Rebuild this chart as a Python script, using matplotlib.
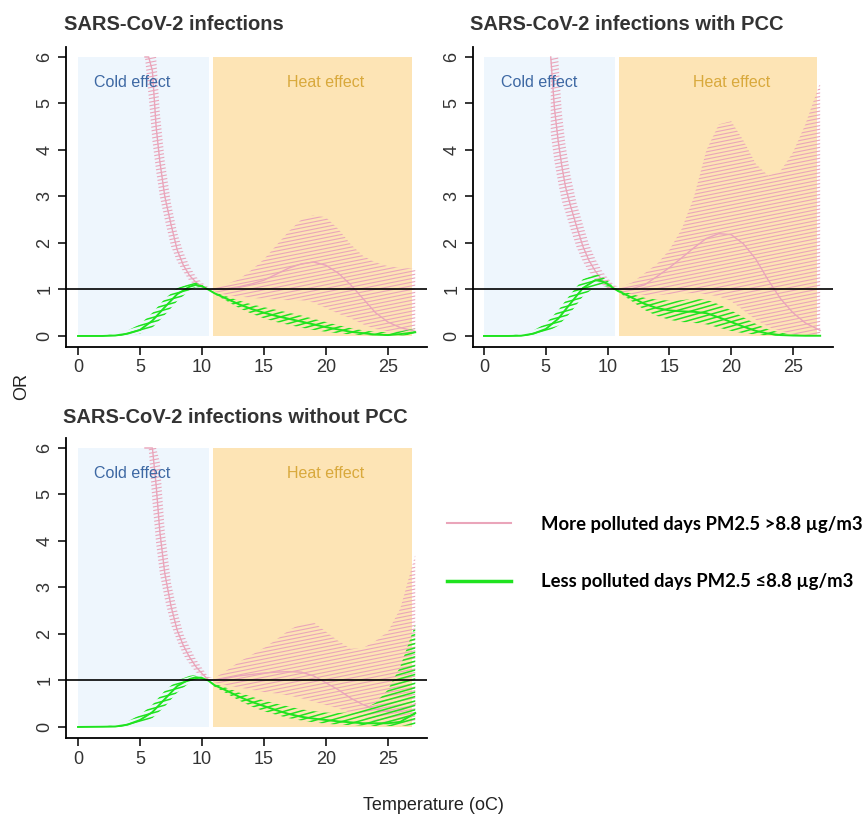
import numpy as np
import matplotlib
matplotlib.use("Agg")
import matplotlib.pyplot as plt
from matplotlib.patches import Polygon, Rectangle
from matplotlib.collections import LineCollection
from matplotlib.lines import Line2D

plt.rcParams["font.family"] = ["Liberation Sans", "DejaVu Sans"]

# temperature grids (oC)
PINK_T = [5.4, 5.7, 6.0, 6.3, 6.6, 7.0, 7.5, 8.0, 8.5, 9.0, 9.5, 10.0, 10.5,
          11, 12, 13, 14, 15, 16, 17, 18, 19, 20, 21, 22, 23, 24, 25, 26, 27.2]
GREEN_T = [0, 2, 3, 4, 5, 6, 7, 8, 9, 9.5, 10, 10.5,
           11, 12, 13, 14, 15, 16, 17, 18, 19, 20, 21, 22, 23, 24, 25, 26, 27.2]

# panel 1: SARS-CoV-2 infections
P1_PINK_EST = [9.0, 7.0, 5.7, 4.5, 3.75, 3.0, 2.4, 1.85, 1.52, 1.3, 1.16, 1.06, 1.0,
               1.0, 1.02, 1.06, 1.12, 1.2, 1.33, 1.46, 1.55, 1.59, 1.52, 1.35, 1.1, 0.8, 0.5, 0.3, 0.18, 0.1]
P1_PINK_LO = [6.6, 5.15, 4.2, 3.55, 3.0, 2.5, 1.93, 1.6, 1.38, 1.18, 1.1, 1.03, 1.0,
              0.95, 0.88, 0.85, 0.82, 0.8, 0.78, 0.77, 0.77, 0.72, 0.6, 0.48, 0.38, 0.25, 0.15, 0.1, 0.07, 0.05]
P1_PINK_HI = [9.5, 9.5, 7.5, 6.2, 4.8, 3.75, 2.85, 2.22, 1.8, 1.5, 1.28, 1.15, 1.05,
              1.05, 1.12, 1.22, 1.42, 1.65, 1.95, 2.25, 2.5, 2.6, 2.55, 2.3, 1.97, 1.72, 1.58, 1.5, 1.46, 1.45]
P1_GREEN_EST = [0, 0.0, 0.01, 0.05, 0.13, 0.33, 0.62, 0.9, 1.06, 1.1, 1.07, 1.0,
                0.92, 0.8, 0.68, 0.58, 0.5, 0.43, 0.37, 0.31, 0.25, 0.19, 0.14, 0.09, 0.06, 0.03, 0.02, 0.04, 0.08]
P1_GREEN_LO = [0, 0, 0, 0.01, 0.05, 0.18, 0.45, 0.75, 0.98, 1.05, 1.04, 1.0,
               0.9, 0.75, 0.6, 0.48, 0.38, 0.3, 0.24, 0.18, 0.13, 0.09, 0.06, 0.03, 0.02, 0.01, 0.005, 0.01, 0.02]
P1_GREEN_HI = [0, 0.01, 0.04, 0.12, 0.25, 0.5, 0.8, 1.03, 1.13, 1.15, 1.1, 1.0,
               0.94, 0.85, 0.76, 0.68, 0.62, 0.56, 0.5, 0.44, 0.37, 0.3, 0.23, 0.17, 0.12, 0.09, 0.08, 0.1, 0.16]

# panel 2: SARS-CoV-2 infections with PCC
P2_PINK_EST = [6.8, 4.9, 4.2, 3.65, 3.2, 2.8, 2.35, 1.93, 1.62, 1.4, 1.22, 1.1, 1.01,
               1.0, 1.02, 1.1, 1.28, 1.47, 1.68, 1.9, 2.1, 2.2, 2.18, 1.98, 1.65, 1.2, 0.8, 0.5, 0.28, 0.12]
P2_PINK_LO = [4.35, 3.75, 3.3, 2.9, 2.65, 2.3, 1.9, 1.6, 1.38, 1.21, 1.11, 1.03, 1.0,
              0.95, 0.9, 0.88, 0.88, 0.9, 0.92, 0.92, 0.9, 0.85, 0.75, 0.55, 0.35, 0.2, 0.1, 0.05, 0.03, 0.02]
P2_PINK_HI = [9.0, 9.0, 6.3, 4.8, 4.1, 3.45, 2.85, 2.4, 1.97, 1.66, 1.42, 1.25, 1.1,
              1.05, 1.15, 1.35, 1.55, 1.85, 2.3, 3.0, 4.0, 4.55, 4.62, 4.2, 3.7, 3.45, 3.55, 3.95, 4.55, 5.45]
P2_GREEN_EST = [0, 0, 0.005, 0.05, 0.15, 0.37, 0.7, 1.03, 1.2, 1.18, 1.12, 1.02,
                0.95, 0.82, 0.69, 0.6, 0.55, 0.53, 0.52, 0.49, 0.4, 0.3, 0.2, 0.11, 0.05, 0.02, 0.01, 0.005, 0.005]
P2_GREEN_LO = [0, 0, 0, 0.01, 0.07, 0.22, 0.5, 0.85, 1.06, 1.08, 1.06, 1.0,
               0.92, 0.74, 0.56, 0.43, 0.35, 0.3, 0.28, 0.25, 0.18, 0.11, 0.06, 0.03, 0.01, 0.005, 0, 0, 0]
P2_GREEN_HI = [0, 0.01, 0.04, 0.12, 0.27, 0.55, 0.9, 1.22, 1.33, 1.29, 1.19, 1.05,
               0.98, 0.9, 0.82, 0.78, 0.76, 0.77, 0.8, 0.78, 0.68, 0.55, 0.4, 0.26, 0.14, 0.07, 0.03, 0.02, 0.02]

# panel 3: SARS-CoV-2 infections without PCC
P3_PINK_EST = [9.0, 8.0, 6.8, 5.2, 4.2, 3.3, 2.6, 2.08, 1.75, 1.5, 1.3, 1.15, 1.02,
               1.0, 1.05, 1.1, 1.13, 1.16, 1.18, 1.19, 1.18, 1.1, 0.95, 0.8, 0.62, 0.48, 0.38, 0.33, 0.35, 0.5]
P3_PINK_LO = [7.5, 6.1, 4.85, 3.95, 3.3, 2.75, 2.2, 1.85, 1.55, 1.35, 1.18, 1.1, 1.0,
              0.95, 0.9, 0.85, 0.8, 0.75, 0.72, 0.68, 0.62, 0.55, 0.47, 0.4, 0.3, 0.2, 0.12, 0.08, 0.06, 0.06]
P3_PINK_HI = [9.5, 9.5, 9.0, 7.0, 5.7, 4.2, 3.1, 2.5, 2.0, 1.72, 1.46, 1.27, 1.08,
              1.05, 1.22, 1.4, 1.55, 1.7, 1.88, 2.08, 2.22, 2.25, 2.05, 1.85, 1.68, 1.7, 1.85, 2.05, 2.55, 3.7]
P3_GREEN_EST = [0, 0.005, 0.01, 0.05, 0.15, 0.32, 0.6, 0.88, 1.03, 1.07, 1.05, 1.0,
                0.9, 0.78, 0.65, 0.54, 0.45, 0.36, 0.28, 0.22, 0.18, 0.15, 0.12, 0.1, 0.08, 0.08, 0.08, 0.11, 0.3]
P3_GREEN_LO = [0, 0, 0, 0.01, 0.07, 0.19, 0.44, 0.74, 0.95, 1.02, 1.02, 1.0,
               0.87, 0.72, 0.57, 0.44, 0.34, 0.26, 0.19, 0.14, 0.1, 0.07, 0.05, 0.04, 0.03, 0.02, 0.02, 0.02, 0.04]
P3_GREEN_HI = [0, 0.01, 0.04, 0.12, 0.26, 0.48, 0.78, 1.0, 1.1, 1.12, 1.08, 1.0,
               0.93, 0.84, 0.74, 0.65, 0.57, 0.5, 0.44, 0.38, 0.34, 0.31, 0.3, 0.32, 0.38, 0.52, 0.8, 1.3, 2.2]

TITLES = ["SARS-CoV-2 infections", "SARS-CoV-2 infections with PCC",
          "SARS-CoV-2 infections without PCC"]
COLD_RANGE = (0, 10.6)
HEAT_RANGE = (10.9, 26.95)
LEGEND_LABELS = ["More polluted days PM2.5 >8.8 \u00b5g/m3",
                 "Less polluted days PM2.5 \u22648.8 \u00b5g/m3"]

PINK = "#eaa5ba"
GREEN = "#1fe31f"
COLD_BG = "#eef6fd"
HEAT_BG = "#fde4b5"
YMAX = 6


def hatch_band(ax, x, lo, hi, color, slope, step, lw):
    x = np.asarray(x, float)
    lo = np.minimum(np.asarray(lo, float), YMAX)
    hi = np.minimum(np.asarray(hi, float), YMAX)
    verts = np.vstack([np.column_stack([x, lo]), np.column_stack([x[::-1], hi[::-1]])])
    poly = Polygon(verts, closed=True, facecolor="none", edgecolor="none")
    ax.add_patch(poly)
    x0, x1 = -2, 30
    segs = [[(x0, c + slope * x0), (x1, c + slope * x1)] for c in np.arange(-3, 8, step)]
    lc = LineCollection(segs, colors=color, linewidths=lw)
    ax.add_collection(lc)
    lc.set_clip_path(poly)


def draw_panel(ax, pink, green, xlim, cold_x):
    ax.add_patch(Rectangle((COLD_RANGE[0], 0), COLD_RANGE[1] - COLD_RANGE[0], YMAX,
                           facecolor=COLD_BG, edgecolor="none", zorder=0))
    ax.add_patch(Rectangle((HEAT_RANGE[0], 0), HEAT_RANGE[1] - HEAT_RANGE[0], YMAX,
                           facecolor=HEAT_BG, edgecolor="none", zorder=0))
    ax.text(cold_x, 5.45, "Cold effect", color="#3d68a3", fontsize=11.5, ha="center", va="center")
    ax.text(20.0, 5.45, "Heat effect", color="#d9a93c", fontsize=11.5, ha="center", va="center")

    est, lo, hi = pink
    hatch_band(ax, PINK_T, lo, hi, PINK, 0.053, 0.078, 0.8)
    ax.plot(PINK_T, np.minimum(est, YMAX), color=PINK, lw=1.0)

    est, lo, hi = green
    hatch_band(ax, GREEN_T, lo, hi, GREEN, 0.075, 0.095, 1.1)
    ax.plot(GREEN_T, est, color=GREEN, lw=1.4)

    ax.axhline(1, color="black", lw=1.2)
    ax.set_xlim(*xlim)
    ax.set_ylim(-0.237, 6.215)
    ax.set_xticks([0, 5, 10, 15, 20, 25])
    ax.set_yticks(range(0, 7))
    for side in ("top", "right"):
        ax.spines[side].set_visible(False)
    for side in ("left", "bottom"):
        ax.spines[side].set_linewidth(1.3)
    ax.tick_params(length=6, width=1.1, labelsize=13, labelcolor="#333333", pad=3)
    for lab in ax.get_yticklabels():
        lab.set_rotation(90)
        lab.set_va("center")


fig = plt.figure(figsize=(8.67, 8.18), dpi=100)
W, H = 867.0, 818.0

ax1 = fig.add_axes([66 / W, 1 - 347 / H, 361 / W, 300 / H])
ax2 = fig.add_axes([473 / W, 1 - 347 / H, 360 / W, 300 / H])
ax3 = fig.add_axes([66 / W, 1 - 738 / H, 361 / W, 300 / H])

draw_panel(ax1, (P1_PINK_EST, P1_PINK_LO, P1_PINK_HI),
           (P1_GREEN_EST, P1_GREEN_LO, P1_GREEN_HI), (-0.97, 28.15), 4.4)
draw_panel(ax2, (P2_PINK_EST, P2_PINK_LO, P2_PINK_HI),
           (P2_GREEN_EST, P2_GREEN_LO, P2_GREEN_HI), (-0.89, 28.24), 4.5)
draw_panel(ax3, (P3_PINK_EST, P3_PINK_LO, P3_PINK_HI),
           (P3_GREEN_EST, P3_GREEN_LO, P3_GREEN_HI), (-0.97, 28.15), 4.4)

tkw = dict(fontsize=14.5, fontweight="bold", color="#333333", va="center")
fig.text(64 / W, 1 - 24 / H, TITLES[0], ha="left", **tkw)
fig.text(470 / W, 1 - 24 / H, TITLES[1], ha="left", **tkw)
fig.text(235 / W, 1 - 417 / H, TITLES[2], ha="center", **tkw)

fig.text(22 / W, 1 - 387 / H, "OR", rotation=90, fontsize=13, color="#222222",
         ha="center", va="center")
fig.text(433 / W, 1 - 806 / H, "Temperature (oC)", fontsize=13, color="#222222",
         ha="center", va="center")

handles = [Line2D([], [], color=PINK, lw=1.5), Line2D([], [], color=GREEN, lw=2.5)]
fig.legend(handles, LEGEND_LABELS, loc="center left", bbox_to_anchor=(430 / W, 1 - 553 / H),
           frameon=False, handlelength=3.5, handletextpad=1.6, labelspacing=2.2,
           prop={"family": "Lato", "weight": "bold", "size": 13.3})

fig.savefig("out.png", dpi=100)
plt.close(fig)
